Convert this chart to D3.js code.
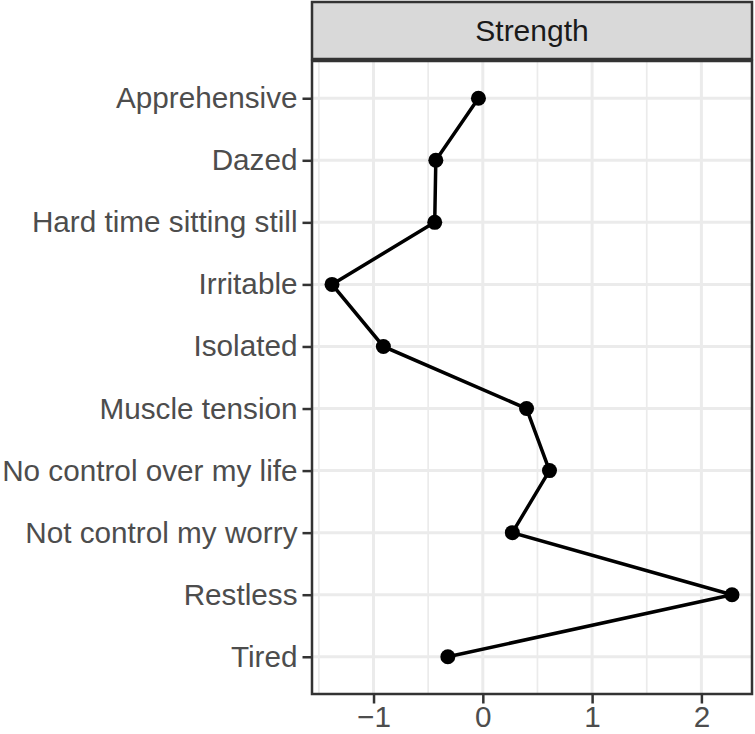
<!DOCTYPE html>
<html>
<head>
<meta charset="utf-8">
<script src="https://cdn.jsdelivr.net/npm/d3@7"></script>
<style>
  body { margin: 0; background: #fff; }
  svg { display: block; }
</style>
</head>
<body>
<div id="chart"></div>
<script>
const symptoms = ["Apprehensive", "Dazed", "Hard time sitting still", "Irritable", "Isolated",
  "Muscle tension", "No control over my life", "Not control my worry", "Restless", "Tired"];
const strength = [-0.04, -0.43, -0.44, -1.38, -0.91, 0.40, 0.61, 0.27, 2.28, -0.32];
const xTicks = [-1, 0, 1, 2];
const xMinor = [-1.5, -0.5, 0.5, 1.5];
const facetLabel = "Strength";

const w = 755, h = 734;
const pLeft = 312, pRight = 752, pTop = 61, pBottom = 694;
const stripTop = 2;
const font = "'Liberation Sans', Arial, Helvetica, sans-serif";

const data = symptoms.map((s, i) => ({ name: s, value: strength[i] }));

const lo = d3.min(strength), hi = d3.max(strength);
const pad = (hi - lo) * 0.05;
const x = d3.scaleLinear().domain([lo - pad, hi + pad]).range([pLeft, pRight]);
const y = d3.scalePoint().domain(symptoms).range([pTop, pBottom]).padding(0.6);

const svg = d3.select("#chart").append("svg")
  .attr("width", w)
  .attr("height", h);

// grid
svg.append("g").selectAll("line").data(xMinor).enter().append("line")
  .attr("x1", d => x(d)).attr("x2", d => x(d))
  .attr("y1", pTop).attr("y2", pBottom)
  .attr("stroke", "#ebebeb").attr("stroke-width", 1.7);

svg.append("g").selectAll("line").data(xTicks).enter().append("line")
  .attr("x1", d => x(d)).attr("x2", d => x(d))
  .attr("y1", pTop).attr("y2", pBottom)
  .attr("stroke", "#ebebeb").attr("stroke-width", 3);

svg.append("g").selectAll("line").data(symptoms).enter().append("line")
  .attr("x1", pLeft).attr("x2", pRight)
  .attr("y1", d => y(d)).attr("y2", d => y(d))
  .attr("stroke", "#ebebeb").attr("stroke-width", 3);

// line + points
const lineFun = d3.line()
  .x(d => x(d.value))
  .y(d => y(d.name));

svg.append("path")
  .attr("d", lineFun(data))
  .attr("fill", "none")
  .attr("stroke", "black")
  .attr("stroke-width", 3.5);

svg.selectAll("circle").data(data).enter().append("circle")
  .attr("cx", d => x(d.value))
  .attr("cy", d => y(d.name))
  .attr("r", 7.5)
  .attr("fill", "black");

// panel border
svg.append("rect")
  .attr("x", pLeft).attr("y", pTop)
  .attr("width", pRight - pLeft).attr("height", pBottom - pTop)
  .attr("fill", "none").attr("stroke", "#333333").attr("stroke-width", 2.5);

// strip
svg.append("rect")
  .attr("x", pLeft).attr("y", stripTop)
  .attr("width", pRight - pLeft).attr("height", pTop - stripTop - 2)
  .attr("fill", "#d9d9d9").attr("stroke", "#333333").attr("stroke-width", 2.5);

svg.append("text")
  .attr("x", (pLeft + pRight) / 2)
  .attr("y", (stripTop + pTop) / 2 - 1)
  .attr("dy", "0.35em")
  .attr("text-anchor", "middle")
  .attr("font-family", font)
  .attr("font-size", "30px")
  .attr("fill", "#1a1a1a")
  .text(facetLabel);

// axes
const yAxis = svg.append("g")
  .attr("transform", `translate(${pLeft},0)`)
  .call(d3.axisLeft(y).tickSize(9.5).tickPadding(5));
const xAxis = svg.append("g")
  .attr("transform", `translate(0,${pBottom})`)
  .call(d3.axisBottom(x).tickValues(xTicks).tickSize(9.5).tickPadding(2)
    .tickFormat(d => d < 0 ? "\u2212" + Math.abs(d) : d));

[yAxis, xAxis].forEach(a => {
  a.select(".domain").remove();
  a.selectAll(".tick line").attr("stroke", "#333333").attr("stroke-width", 2.5);
  a.selectAll(".tick text")
    .attr("fill", "#4d4d4d")
    .attr("font-family", font)
    .attr("font-size", "29.7px");
});
</script>
</body>
</html>
